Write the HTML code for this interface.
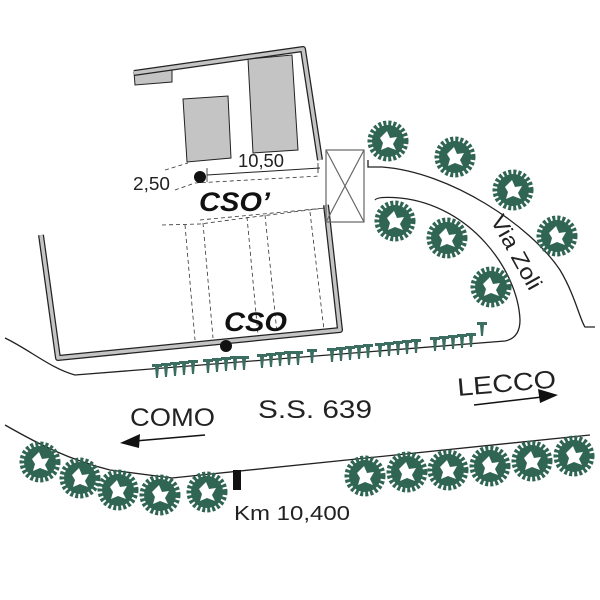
<!DOCTYPE html>
<html><head><style>body{margin:0;background:#fff}svg{display:block}</style></head><body>
<svg width="600" height="600" viewBox="0 0 600 600" xmlns="http://www.w3.org/2000/svg" font-family="Liberation Sans, sans-serif">
<defs>
<g id="t">
<circle r="16" fill="#2f6552"/>
<circle r="18" fill="none" stroke="#2f6552" stroke-width="5" stroke-dasharray="3 2"/>
<path d="M-8,-3 L-1,-10 L2,-3 L9,-4 L5,3 L8,9 L0,6 L-7,9 L-5,2 Z" fill="#fff"/>
</g>
<g id="h"><path d="M-5,0 L5,0 L5,3 L2,3 L1,14 L-1,14 L-2,3 L-5,3 Z" fill="#3b6e60"/></g>
</defs>
<!-- roads -->
<path d="M5,338 C30,350 50,368 75,375 L505,341 Q520,338 520,320 C518,270 470,205 400,198 Q378,196 375,200" fill="none" stroke="#222" stroke-width="1.3"/>
<path d="M368,160 L368,167 L382,167 C450,172 530,225 560,270 C575,295 580,320 585,327 L595,327" fill="none" stroke="#222" stroke-width="1.3"/>
<path d="M5,425 C40,445 70,460 110,470 L172,478 L590,435" fill="none" stroke="#222" stroke-width="1.3"/>
<!-- hedge -->
<g>
<use href="#h" x="157" y="364"/><use href="#h" x="166" y="363"/><use href="#h" x="175" y="362"/><use href="#h" x="184" y="361"/><use href="#h" x="193" y="360"/>
<use href="#h" x="208" y="359"/><use href="#h" x="217" y="358"/><use href="#h" x="226" y="357"/><use href="#h" x="235" y="356"/><use href="#h" x="244" y="356"/>
<use href="#h" x="262" y="354"/><use href="#h" x="271" y="353"/><use href="#h" x="280" y="352"/><use href="#h" x="289" y="351"/><use href="#h" x="298" y="351"/>
<use href="#h" x="312" y="349"/><use href="#h" x="332" y="348"/><use href="#h" x="341" y="347"/><use href="#h" x="350" y="346"/><use href="#h" x="359" y="345"/><use href="#h" x="368" y="344"/>
<use href="#h" x="380" y="343"/><use href="#h" x="389" y="342"/><use href="#h" x="398" y="341"/><use href="#h" x="407" y="340"/><use href="#h" x="416" y="339"/>
<use href="#h" x="435" y="337"/><use href="#h" x="444" y="336"/><use href="#h" x="453" y="335"/><use href="#h" x="462" y="334"/><use href="#h" x="471" y="333"/><use href="#h" x="482" y="322"/>
</g>
<!-- buildings -->
<polygon points="183,99 228,96 231,158 187,162" fill="#c4c4c4" stroke="#222" stroke-width="1"/>
<polygon points="248,59 292,55 298,150 253,153" fill="#c4c4c4" stroke="#222" stroke-width="1"/>
<polygon points="134,72 172,68 172,82 135,85" fill="#c4c4c4" stroke="#222" stroke-width="1"/>
<!-- walls -->
<g fill="none" stroke="#222" stroke-width="6" stroke-linejoin="round"><path d="M134,73 L303,49 L320,160"/><path d="M326,205 L340,330 L58,358 L41,235"/></g>
<g fill="none" stroke="#c4c4c4" stroke-width="3.5" stroke-linejoin="round"><path d="M134,73 L303,49 L320,160"/><path d="M326,205 L340,330 L58,358 L41,235"/></g>
<!-- gate -->
<rect x="326" y="150" width="38" height="72" fill="none" stroke="#666" stroke-width="1.2"/>
<path d="M326,150 L364,222 M364,150 L326,222" stroke="#666" stroke-width="1.2"/>
<!-- dashed -->
<g fill="none" stroke="#333" stroke-width="0.8" stroke-dasharray="4 3">
<path d="M165,170 L188,163"/><path d="M175,190 L195,183 L320,176"/>
<path d="M200,220 L325,208"/><path d="M162,225 L200,224 L245,218 L325,208"/>
<path d="M185,225 L195,340"/><path d="M203,223 L213,338"/><path d="M247,217 L258,335"/><path d="M265,215 L277,333"/><path d="M310,212 L324,330"/>
</g>
<!-- dimension -->
<path d="M207,175 L320,168" stroke="#222" stroke-width="1"/>
<path d="M207,168 L207,182 M318,163 L318,173" stroke="#222" stroke-width="0.8"/>
<circle cx="200" cy="177" r="6" fill="#111"/>
<circle cx="226" cy="346" r="6" fill="#111"/>
<text x="238" y="167" font-size="18" fill="#222" textLength="46" lengthAdjust="spacingAndGlyphs">10,50</text>
<text x="133" y="190" font-size="18" fill="#222" textLength="37" lengthAdjust="spacingAndGlyphs">2,50</text>
<text x="199" y="211" font-size="27" font-weight="bold" font-style="italic" fill="#111" textLength="71" lengthAdjust="spacingAndGlyphs">CSO’</text>
<text x="224" y="331" font-size="27" font-weight="bold" font-style="italic" fill="#111" textLength="63" lengthAdjust="spacingAndGlyphs">CSO</text>
<!-- trees -->
<use href="#t" x="388" y="141"/><use href="#t" x="455" y="157"/><use href="#t" x="513" y="190"/><use href="#t" x="557" y="236"/>
<use href="#t" x="395" y="221"/><use href="#t" x="447" y="238"/><use href="#t" x="491" y="287"/>
<use href="#t" x="40" y="462"/><use href="#t" x="80" y="478"/><use href="#t" x="118" y="490"/><use href="#t" x="160" y="495"/><use href="#t" x="207" y="492"/>
<use href="#t" x="365" y="476"/><use href="#t" x="407" y="472"/><use href="#t" x="448" y="470"/><use href="#t" x="490" y="466"/><use href="#t" x="532" y="461"/><use href="#t" x="574" y="456"/>
<!-- labels -->
<text font-size="22" fill="#222" transform="translate(490,220) rotate(61)" textLength="82" lengthAdjust="spacingAndGlyphs">Via Zoli</text>
<text x="130" y="426" font-size="25" fill="#222" textLength="85" lengthAdjust="spacingAndGlyphs">COMO</text>
<text x="258" y="418" font-size="25" fill="#222" textLength="114" lengthAdjust="spacingAndGlyphs">S.S. 639</text>
<text x="458" y="396" font-size="25" fill="#222" transform="rotate(-5 458 396)" textLength="99" lengthAdjust="spacingAndGlyphs">LECCO</text>
<path d="M205,435 L135,441" stroke="#111" stroke-width="1.5"/><path d="M120,443 L140,434 L139,448 Z" fill="#111"/>
<path d="M474,405 L542,397" stroke="#111" stroke-width="1.5"/><path d="M558,395 L538,389 L540,403 Z" fill="#111"/>
<rect x="233" y="470" width="8" height="20" fill="#111"/>
<text x="234" y="520" font-size="20" fill="#222" textLength="116" lengthAdjust="spacingAndGlyphs">Km 10,400</text>
</svg>
</body></html>
